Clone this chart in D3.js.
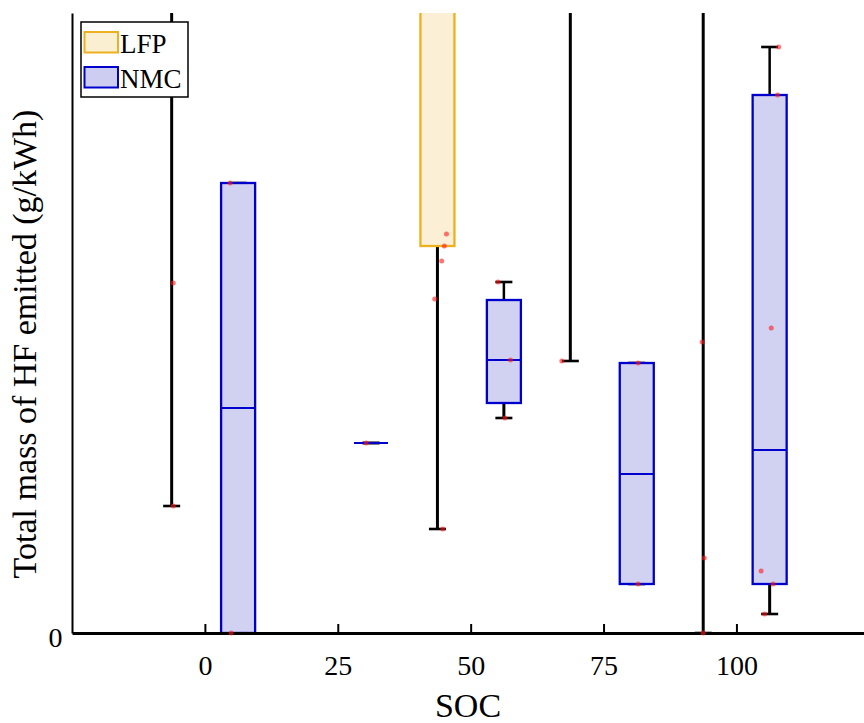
<!DOCTYPE html>
<html>
<head>
<meta charset="utf-8">
<script src="https://cdn.jsdelivr.net/npm/d3@7"></script>
<style>
  html, body { margin: 0; padding: 0; background: #fff; }
  svg { display: block; font-family: "Liberation Serif", "Times New Roman", serif; }
</style>
</head>
<body>
<svg id="chart" width="864" height="723"></svg>
<script>
// SOC levels (%) on the x axis
const soc = [0, 25, 50, 75, 100];
const chemistries = ["LFP", "NMC"];
const tickLabelsY = ["0"];

// Box statistics per SOC level (g/kWh); null where a chemistry has no test
const lfpLower  = [12.7, null, 10.4, 27.2, 0];
const lfpQ1     = [70,   null, 38.7, 70,   70];
const lfpMedian = [85,   null, 80,   85,   85];
const lfpQ3     = [100,  null, 95,   100,  100];
const lfpUpper  = [120,  null, 110,  120,  120];

const nmcLower  = [0,    19.0, 21.5, 4.9,  1.9];
const nmcQ1     = [0,    19.0, 23.0, 4.9,  4.9];
const nmcMedian = [22.5, 19.0, 27.3, 15.9, 18.3];
const nmcQ3     = [45.0, 19.0, 33.3, 27.0, 53.8];
const nmcUpper  = [45.0, 19.0, 35.1, 27.0, 58.6];

// Individual test results and their horizontal jitter (SOC units)
const lfpPoints = [[35.0, 12.7], [], [39.9, 38.7, 37.2, 33.4, 10.4], [27.2], [29.1, 7.5, 0]];
const lfpJitter = [[0.3, 0.3], [], [1.7, 1.3, 0.8, -0.5, 1.0], [-1.6], [-0.2, 0.2, 0]];
const nmcPoints = [[45.0, 0], [19.0], [35.1, 27.3, 21.5], [27.0, 4.9], [58.6, 53.8, 30.5, 6.2, 4.9, 1.9]];
const nmcJitter = [[-1.5, -1.3], [-0.9], [-1.1, 1.25, 0.2], [0.25, 0.25], [1.7, 1.5, 0.3, -1.6, 0.65, -0.95]];

const styles = {
  LFP: { fill: "#fbefd2", stroke: "#edb120", offset: -6.25 },
  NMC: { fill: "#cdcdf1", stroke: "#0000cc", offset: 6.25 }
};
const boxWidth = 6.4;   // in SOC units
const capWidth = 3.2;

const series = [
  { name: "LFP", lower: lfpLower, q1: lfpQ1, median: lfpMedian, q3: lfpQ3, upper: lfpUpper, points: lfpPoints, jitter: lfpJitter },
  { name: "NMC", lower: nmcLower, q1: nmcQ1, median: nmcMedian, q3: nmcQ3, upper: nmcUpper, points: nmcPoints, jitter: nmcJitter }
];

const svg = d3.select("#chart");
const plotLeft = 72, plotRight = 864, plotTop = 13, plotBottom = 633;

const x = d3.scaleLinear().domain([-25, 124]).range([plotLeft, plotRight]);
const y = d3.scaleLinear().domain([0, 62]).range([plotBottom, plotTop]);

svg.append("defs").append("clipPath").attr("id", "plotClip")
  .append("rect").attr("x", plotLeft).attr("y", plotTop)
  .attr("width", plotRight - plotLeft).attr("height", plotBottom - plotTop + 4);

const plot = svg.append("g").attr("clip-path", "url(#plotClip)");

series.forEach(s => {
  const st = styles[s.name];
  soc.forEach((lvl, i) => {
    if (s.q1[i] == null) return;
    const cx = lvl + st.offset;
    const g = plot.append("g");
    // whiskers
    g.append("line").attr("x1", x(cx)).attr("x2", x(cx))
      .attr("y1", y(s.q3[i])).attr("y2", y(s.upper[i]))
      .attr("stroke", "#000").attr("stroke-width", 2.5);
    g.append("line").attr("x1", x(cx)).attr("x2", x(cx))
      .attr("y1", y(s.q1[i])).attr("y2", y(s.lower[i]))
      .attr("stroke", "#000").attr("stroke-width", 3);
    [s.upper[i], s.lower[i]].forEach(v => {
      g.append("line").attr("x1", x(cx - capWidth / 2)).attr("x2", x(cx + capWidth / 2))
        .attr("y1", y(v)).attr("y2", y(v))
        .attr("stroke", "#000").attr("stroke-width", 2.6);
    });
    // box
    g.append("rect")
      .attr("x", x(cx - boxWidth / 2)).attr("width", x(boxWidth) - x(0))
      .attr("y", y(s.q3[i])).attr("height", y(s.q1[i]) - y(s.q3[i]))
      .attr("fill", st.fill).attr("fill-opacity", 0.92)
      .attr("stroke", st.stroke).attr("stroke-width", 2.3);
    // median
    g.append("line").attr("x1", x(cx - boxWidth / 2)).attr("x2", x(cx + boxWidth / 2))
      .attr("y1", y(s.median[i])).attr("y2", y(s.median[i]))
      .attr("stroke", st.stroke).attr("stroke-width", 2);
  });
});

// x axis
const xAxis = svg.append("g").attr("transform", `translate(0,${plotBottom})`)
  .call(d3.axisBottom(x).tickValues(soc).tickSizeInner(-9).tickSizeOuter(0).tickFormat(d3.format("d")));
xAxis.select(".domain").attr("stroke", "#000").attr("stroke-width", 3);
xAxis.selectAll(".tick line").attr("stroke", "#000").attr("stroke-width", 2);
xAxis.selectAll(".tick text").attr("y", 42).attr("dy", 0)
  .attr("font-size", 28).attr("font-family", "Liberation Serif, serif").attr("fill", "#000");

// y axis
const yAxis = svg.append("g").attr("transform", `translate(${plotLeft},0)`)
  .call(d3.axisLeft(y).tickValues([0]).tickSize(0).tickFormat((d, i) => tickLabelsY[i]));
yAxis.select(".domain").attr("stroke", "#000").attr("stroke-width", 2);
yAxis.selectAll(".tick text").attr("x", -9.5).attr("dy", 13)
  .attr("font-size", 28).attr("font-family", "Liberation Serif, serif").attr("fill", "#000");

// individual measurements
const pts = svg.append("g").attr("clip-path", "url(#plotClip)");
series.forEach(s => {
  const st = styles[s.name];
  soc.forEach((lvl, i) => {
    s.points[i].forEach((v, j) => {
      pts.append("circle")
        .attr("cx", x(lvl + st.offset + s.jitter[i][j]))
        .attr("cy", y(v)).attr("r", 2.5)
        .attr("fill", "#ff1a1a").attr("fill-opacity", 0.6);
    });
  });
});

// axis titles
svg.append("text").attr("x", (plotLeft + plotRight) / 2).attr("y", 717)
  .attr("text-anchor", "middle").attr("font-size", 34).text("SOC");
svg.append("text").attr("transform", "translate(36,344) rotate(-90)")
  .attr("text-anchor", "middle").attr("font-size", 34).text("Total mass of HF emitted (g/kWh)");

// legend
const legend = svg.append("g");
legend.append("rect").attr("x", 81).attr("y", 22).attr("width", 107).attr("height", 75)
  .attr("fill", "#fff").attr("stroke", "#000").attr("stroke-width", 1.5);
chemistries.forEach((name, i) => {
  const st = styles[name];
  const yy = 32 + i * 35;
  legend.append("rect").attr("x", 84.5).attr("y", yy).attr("width", 33.5).attr("height", 20.5)
    .attr("fill", st.fill).attr("stroke", st.stroke).attr("stroke-width", 2);
  legend.append("text").attr("x", 120).attr("y", yy + 20.5).attr("font-size", 27).text(name);
});
</script>
</body>
</html>
